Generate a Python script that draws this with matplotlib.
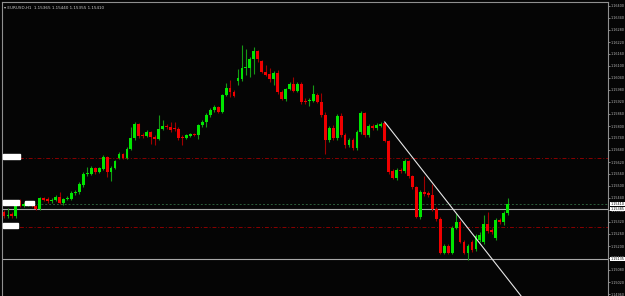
import matplotlib
matplotlib.use("Agg")
from matplotlib import pyplot as plt
from matplotlib.patches import Rectangle
import numpy as np

# EURUSD H1 candles (open, high, low, close)
opens = [1.15370, 1.15350, 1.15360, 1.15350, 1.15425, 1.15400, 1.15405, 1.15410, 1.15400, 1.15385,
         1.15440, 1.15435, 1.15425, 1.15430, 1.15445, 1.15415, 1.15435, 1.15435, 1.15465, 1.15470,
         1.15505, 1.15560, 1.15560, 1.15590, 1.15570, 1.15585, 1.15645, 1.15570, 1.15590, 1.15640,
         1.15660, 1.15640, 1.15685, 1.15740, 1.15810, 1.15755, 1.15750, 1.15770, 1.15745, 1.15735,
         1.15785, 1.15800, 1.15795, 1.15790, 1.15785, 1.15745, 1.15740, 1.15750, 1.15760, 1.15755,
         1.15805, 1.15820, 1.15855, 1.15880, 1.15895, 1.15870, 1.15955, 1.15990, 1.15970, 1.16025,
         1.16035, 1.16090, 1.16090, 1.16135, 1.16175, 1.16125, 1.16070, 1.16060, 1.16035, 1.16065,
         1.15970, 1.15935, 1.15985, 1.16010, 1.15975, 1.16010, 1.15925, 1.15925, 1.15925, 1.15955,
         1.15920, 1.15855, 1.15730, 1.15790, 1.15740, 1.15850, 1.15755, 1.15705, 1.15730, 1.15690,
         1.15770, 1.15865, 1.15755, 1.15800, 1.15790, 1.15800, 1.15815, 1.15725, 1.15575, 1.15540,
         1.15580, 1.15575, 1.15625, 1.15550, 1.15495, 1.15345, 1.15470, 1.15465, 1.15455, 1.15385,
         1.15335, 1.15165, 1.15200, 1.15165, 1.15290, 1.15320, 1.15220, 1.15165, 1.15220, 1.15185,
         1.15230, 1.15220, 1.15310, 1.15280, 1.15240, 1.15330, 1.15320, 1.15365]
highs = [1.15380, 1.15390, 1.15370, 1.15425, 1.15435, 1.15420, 1.15415, 1.15415, 1.15405, 1.15445,
         1.15445, 1.15445, 1.15440, 1.15455, 1.15470, 1.15440, 1.15450, 1.15475, 1.15480, 1.15520,
         1.15570, 1.15595, 1.15600, 1.15595, 1.15595, 1.15655, 1.15650, 1.15600, 1.15630, 1.15670,
         1.15665, 1.15695, 1.15795, 1.15820, 1.15815, 1.15765, 1.15780, 1.15775, 1.15755, 1.15855,
         1.15830, 1.15810, 1.15820, 1.15820, 1.15795, 1.15755, 1.15760, 1.15765, 1.15765, 1.15810,
         1.15830, 1.15865, 1.15890, 1.15905, 1.15900, 1.15960, 1.16015, 1.16030, 1.15980, 1.16085,
         1.16205, 1.16185, 1.16145, 1.16195, 1.16180, 1.16130, 1.16105, 1.16090, 1.16075, 1.16080,
         1.15980, 1.15990, 1.16020, 1.16045, 1.16020, 1.16020, 1.15940, 1.15940, 1.16005, 1.15965,
         1.15965, 1.15870, 1.15800, 1.15805, 1.15860, 1.15865, 1.15765, 1.15740, 1.15740, 1.15780,
         1.15875, 1.15870, 1.15810, 1.15810, 1.15815, 1.15820, 1.15820, 1.15730, 1.15585, 1.15590,
         1.15590, 1.15635, 1.15630, 1.15555, 1.15500, 1.15480, 1.15550, 1.15475, 1.15510, 1.15395,
         1.15345, 1.15210, 1.15210, 1.15300, 1.15365, 1.15330, 1.15230, 1.15210, 1.15230, 1.15260,
         1.15270, 1.15355, 1.15370, 1.15290, 1.15340, 1.15340, 1.15375, 1.15440]
lows = [1.15340, 1.15340, 1.15340, 1.15340, 1.15395, 1.15395, 1.15400, 1.15395, 1.15380, 1.15380,
        1.15425, 1.15415, 1.15415, 1.15425, 1.15410, 1.15405, 1.15430, 1.15430, 1.15455, 1.15460,
        1.15495, 1.15550, 1.15555, 1.15560, 1.15565, 1.15580, 1.15545, 1.15525, 1.15585, 1.15635,
        1.15635, 1.15635, 1.15680, 1.15730, 1.15740, 1.15740, 1.15745, 1.15710, 1.15705, 1.15730,
        1.15780, 1.15785, 1.15770, 1.15775, 1.15730, 1.15705, 1.15735, 1.15745, 1.15750, 1.15735,
        1.15795, 1.15795, 1.15845, 1.15870, 1.15865, 1.15865, 1.15950, 1.15945, 1.15945, 1.16005,
        1.16025, 1.16055, 1.16045, 1.16060, 1.16120, 1.16065, 1.16050, 1.16020, 1.16005, 1.15960,
        1.15930, 1.15925, 1.15980, 1.15970, 1.15970, 1.15910, 1.15910, 1.15900, 1.15920, 1.15915,
        1.15845, 1.15660, 1.15720, 1.15730, 1.15730, 1.15745, 1.15690, 1.15695, 1.15680, 1.15680,
        1.15760, 1.15745, 1.15745, 1.15780, 1.15780, 1.15795, 1.15720, 1.15560, 1.15535, 1.15530,
        1.15565, 1.15565, 1.15540, 1.15485, 1.15340, 1.15335, 1.15450, 1.15445, 1.15375, 1.15325,
        1.15160, 1.15160, 1.15160, 1.15160, 1.15285, 1.15215, 1.15160, 1.15130, 1.15170, 1.15175,
        1.15220, 1.15210, 1.15265, 1.15260, 1.15230, 1.15310, 1.15305, 1.15355]
closes = [1.15350, 1.15355, 1.15350, 1.15415, 1.15400, 1.15410, 1.15410, 1.15400, 1.15385, 1.15440,
          1.15430, 1.15425, 1.15430, 1.15445, 1.15415, 1.15435, 1.15440, 1.15465, 1.15470, 1.15510,
          1.15560, 1.15565, 1.15590, 1.15570, 1.15590, 1.15645, 1.15570, 1.15590, 1.15625, 1.15660,
          1.15640, 1.15685, 1.15740, 1.15810, 1.15750, 1.15750, 1.15770, 1.15745, 1.15735, 1.15785,
          1.15800, 1.15795, 1.15780, 1.15785, 1.15740, 1.15740, 1.15755, 1.15760, 1.15755, 1.15805,
          1.15820, 1.15855, 1.15880, 1.15895, 1.15870, 1.15955, 1.15990, 1.15970, 1.15950, 1.16040,
          1.16090, 1.16095, 1.16135, 1.16175, 1.16135, 1.16070, 1.16055, 1.16035, 1.16065, 1.15970,
          1.15935, 1.15985, 1.16010, 1.15975, 1.16010, 1.15920, 1.15920, 1.15930, 1.15960, 1.15920,
          1.15855, 1.15730, 1.15790, 1.15740, 1.15850, 1.15755, 1.15705, 1.15730, 1.15690, 1.15770,
          1.15865, 1.15755, 1.15800, 1.15790, 1.15805, 1.15810, 1.15725, 1.15570, 1.15540, 1.15580,
          1.15575, 1.15625, 1.15550, 1.15495, 1.15345, 1.15470, 1.15460, 1.15455, 1.15385, 1.15335,
          1.15165, 1.15200, 1.15165, 1.15290, 1.15320, 1.15220, 1.15165, 1.15200, 1.15180, 1.15250,
          1.15255, 1.15310, 1.15275, 1.15270, 1.15330, 1.15320, 1.15365, 1.15410]

# horizontal objects on the chart
red_levels = [1.15640, 1.15295]
bid_level = 1.15410
gray_levels = [1.15385, 1.15135]
trend_start = (96, 1.15820)
trend_slope = -0.000253

price_ticks = np.round(np.arange(1.16400, 1.14950, -0.00060), 5)
title = "\u25be EURUSD,H1  1.15365 1.15440 1.15355 1.15410"

bg = "#050505"
fig = plt.figure(figsize=(6.25, 2.96), dpi=100, facecolor=bg)
ax = fig.add_axes([2 / 625, 0, 606 / 625, 294 / 296], facecolor=bg)

o = np.array(opens)
h = np.array(highs)
l = np.array(lows)
c = np.array(closes)
x = np.arange(len(o))
up = c >= o

ax.vlines(x[up], l[up], h[up], color="#159a15", lw=0.8, zorder=2)
ax.vlines(x[~up], l[~up], h[~up], color="#a00000", lw=0.8, zorder=2)
body_h = np.maximum(np.abs(c - o), 0.00005)
ax.bar(x[up], body_h[up], bottom=np.minimum(o, c)[up], width=0.72,
       color="#00e600", linewidth=0, zorder=3)
ax.bar(x[~up], body_h[~up], bottom=np.minimum(o, c)[~up], width=0.72,
       color="#f00000", linewidth=0, zorder=3)

for lv in red_levels:
    ax.axhline(lv, color="#8a0000", lw=0.7, ls=(0, (4, 2, 1, 2)), zorder=1)
ax.axhline(bid_level, color="#2c5c3a", lw=0.7, ls=(0, (2, 2)), zorder=1)
for lv in gray_levels:
    ax.axhline(lv, color="#a8a8a8", lw=0.8, zorder=1)

# trend line
tx = np.array([trend_start[0], trend_start[0] + 45])
ty = trend_start[1] + trend_slope * (tx - trend_start[0])
ax.plot(tx, ty, color="#e8e8e8", lw=0.8, zorder=4)

# white label boxes of the levels at the left edge
for lv, w in [(red_levels[0], 4.3), (bid_level, 4.0), (red_levels[1], 3.8)]:
    ax.add_patch(Rectangle((-0.25, lv - 0.00005), w, 0.00025, color="white", zorder=5))
ax.add_patch(Rectangle((5.3, bid_level - 0.00005), 2.3, 0.0002, color="white", zorder=5))

ax.set_xlim(-0.5, 152.3)
ax.set_ylim(1.14950, 1.16420)
ax.yaxis.tick_right()
ax.set_yticks(price_ticks)
ax.set_yticklabels([f"{p:.5f}" for p in price_ticks])
ax.tick_params(axis="y", colors="#b8b8b8", labelsize=2.4, length=1.5, width=0.5, pad=0.6)
ax.tick_params(axis="x", bottom=False, labelbottom=False)
for side in ["left", "top", "right"]:
    ax.spines[side].set_color("#909090")
    ax.spines[side].set_linewidth(0.8)
ax.spines["bottom"].set_visible(False)

for lv in [bid_level, gray_levels[0], gray_levels[1]]:
    ax.text(1.004, lv, f"{lv:.5f}", transform=ax.get_yaxis_transform(),
            fontsize=2.4, color="black", va="center", ha="left",
            bbox=dict(boxstyle="square,pad=0.12", fc="white", ec="none"), clip_on=False)

ax.text(0.003, 0.985, title, transform=ax.transAxes, fontsize=3.0,
        color="#c8c8c8", va="top", ha="left")

plt.savefig("out.png", dpi=100, facecolor=bg)
